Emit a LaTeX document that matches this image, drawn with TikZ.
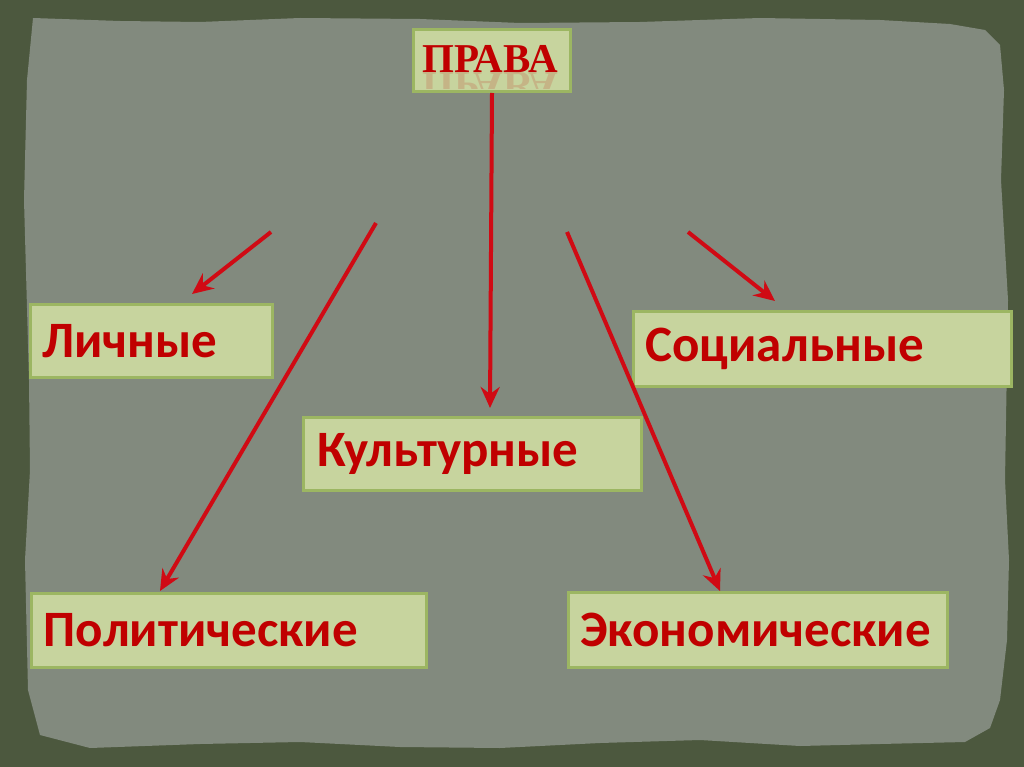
\documentclass[tikz,border=0pt]{standalone}
\usepackage{fontspec}
\setmainfont{Carlito}
\newfontfamily\titlefont{Liberation Serif}
\usetikzlibrary{arrows.meta,positioning}

\definecolor{frame}{RGB}{76,88,62}
\definecolor{paper}{RGB}{130,138,126}
\definecolor{boxfill}{RGB}{199,212,158}
\definecolor{boxline}{RGB}{156,182,98}
\definecolor{txtred}{RGB}{192,0,0}
\definecolor{arrred}{RGB}{208,10,20}

\begin{document}
\begin{tikzpicture}[x=1pt, y=-1pt,
    box/.style={draw=boxline, line width=3pt, fill=boxfill, anchor=north west,
        inner xsep=12pt, inner ysep=0pt, align=left, text=txtred,
        font=\fontsize{51}{58}\selectfont\bfseries},
    arr/.style={->, >={Stealth[length=21pt, width=19pt, inset=7pt]},
        every edge/.append style={draw=arrred, line width=4pt}}]
        % Define background
        \fill[frame] (0,0) rectangle (1024,767);
        \fill[paper] (33,18) -- (120,21) -- (200,22) -- (300,18) -- (420,19) -- (520,23)
            -- (640,22) -- (760,18) -- (880,20) -- (950,24) -- (985,30) -- (1000,45)
            -- (1004,90) -- (1001,180) -- (1008,300) -- (1005,480) -- (1009,560) -- (1007,640)
            -- (1000,700) -- (990,728) -- (965,742) -- (880,744) -- (800,746) -- (700,740)
            -- (600,743) -- (500,748) -- (400,747) -- (300,742) -- (200,744) -- (90,748)
            -- (40,735) -- (28,690) -- (25,560) -- (30,470) -- (29,380) -- (24,200)
            -- (27,80) -- cycle;
        \useasboundingbox (0,0) rectangle (1024,767);

        % Define boxes
        \node[box, minimum width=157pt, minimum height=62pt, inner xsep=0pt] (Prava) at (412,28) {};
        \node[text=txtred, anchor=base, font=\titlefont\fontsize{41}{46}\selectfont\bfseries]
            (PravaText) at (490,73) {ПРАВА};
        \begin{scope}
            \clip (413.5,73) rectangle (567.5,88.5);
            \node[text=txtred, opacity=0.15, anchor=base, yscale=-1,
                font=\titlefont\fontsize{41}{46}\selectfont\bfseries] at (490,73) {ПРАВА};
        \end{scope}
        \node[box, minimum width=242pt, minimum height=73pt, text width=218pt] (Lichnye) at (29,303) {Личные};
        \node[box, minimum width=378pt, minimum height=75pt, text width=354pt] (Socialnye) at (632,310) {Социальные};
        \node[box, minimum width=338pt, minimum height=73pt, text width=311pt, inner xsep=13.5pt] (Kulturnye) at (302,416) {Культурные};
        \node[box, minimum width=395pt, minimum height=74pt, text width=371pt] (Politicheskie) at (30,592) {Политические};
        \node[box, minimum width=379pt, minimum height=75pt, text width=355pt] (Ekonomicheskie) at (567,591) {Экономические};

        % Define arrow ends
        \coordinate (l1) at (271,232);  \coordinate (l2) at (192,294);
        \coordinate (p1) at (376,223);  \coordinate (p2) at (160,591);
        \coordinate (k2) at (490,408);
        \coordinate (e1) at (567,232);  \coordinate (e2) at (720,591);
        \coordinate (s1) at (688,232);  \coordinate (s2) at (775,301);

        % Define arrows
        \path[arr]
        (Prava.south) edge (k2)
        (l1) edge (l2)
        (p1) edge (p2)
        (e1) edge (e2)
        (s1) edge (s2);
\end{tikzpicture}
\end{document}
